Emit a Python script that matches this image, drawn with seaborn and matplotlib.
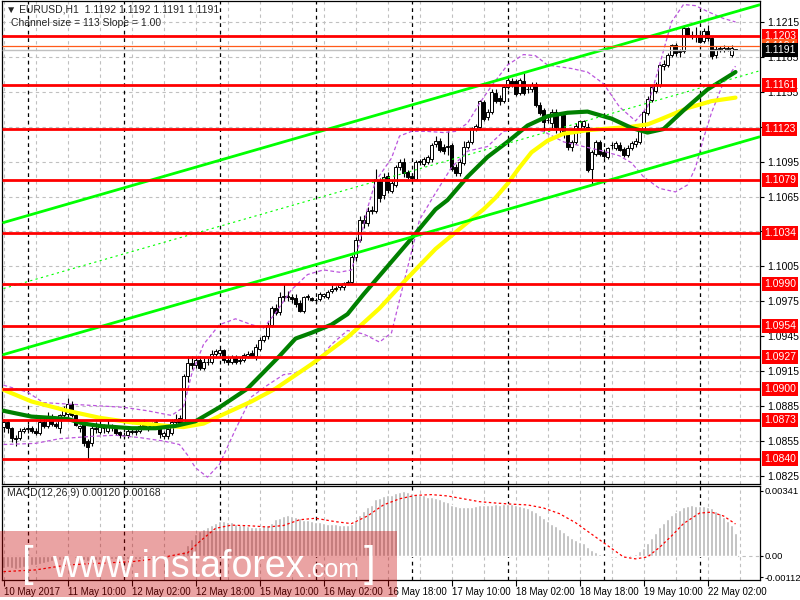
import numpy as np
import pandas as pd
import seaborn as sns
import matplotlib
matplotlib.use("Agg")
from matplotlib import pyplot as plt
from matplotlib.patches import Rectangle
from matplotlib.transforms import blended_transform_factory

# EURUSD H1 candles, bar 0 = 10 May 2017 18:00
opens = [
    1.0867, 1.0871, 1.0866, 1.0858, 1.0858, 1.0864, 1.0865, 1.0866, 1.0864, 1.0862,
    1.0871, 1.0868, 1.0876, 1.0870, 1.0866, 1.0877, 1.0878, 1.0887, 1.0877, 1.0866,
    1.0870, 1.0855, 1.0853, 1.0866, 1.0863, 1.0866, 1.0864, 1.0867, 1.0865, 1.0863,
    1.0860, 1.0860, 1.0863, 1.0863, 1.0864, 1.0870, 1.0866, 1.0867, 1.0868, 1.0869,
    1.0859, 1.0859, 1.0862, 1.0871, 1.0875, 1.0869, 1.0911, 1.0922, 1.0920, 1.0925,
    1.0918, 1.0923, 1.0923, 1.0930, 1.0931, 1.0933, 1.0925, 1.0923, 1.0927, 1.0924,
    1.0925, 1.0928, 1.0931, 1.0928, 1.0934, 1.0942, 1.0945, 1.0955, 1.0969, 1.0966,
    1.0979, 1.0979, 1.0979, 1.0978, 1.0974, 1.0967, 1.0979, 1.0978, 1.0976, 1.0977,
    1.0980, 1.0979, 1.0984, 1.0986, 1.0987, 1.0987, 1.0991, 1.0992, 1.1013, 1.1028,
    1.1045, 1.1042, 1.1053, 1.1053, 1.1078, 1.1066, 1.1083, 1.1070, 1.1075, 1.1090,
    1.1095, 1.1086, 1.1083, 1.1080, 1.1095, 1.1093, 1.1095, 1.1097, 1.1110, 1.1113,
    1.1108, 1.1108, 1.1109, 1.1090, 1.1085, 1.1094, 1.1108, 1.1112, 1.1123, 1.1125,
    1.1146, 1.1133, 1.1138, 1.1154, 1.1150, 1.1147, 1.1159, 1.1164, 1.1164, 1.1154,
    1.1164, 1.1157, 1.1157, 1.1162, 1.1144, 1.1139, 1.1131, 1.1128, 1.1138, 1.1124,
    1.1135, 1.1119, 1.1108, 1.1112, 1.1124, 1.1126, 1.1125, 1.1089, 1.1102, 1.1112,
    1.1103, 1.1099, 1.1109, 1.1107, 1.1109, 1.1106, 1.1101, 1.1107, 1.1110, 1.1112,
    1.1123, 1.1137, 1.1148, 1.1156, 1.1161, 1.1177, 1.1178, 1.1187, 1.1195, 1.1189,
    1.1190, 1.1210, 1.1204, 1.1204, 1.1204, 1.1199, 1.1207, 1.1201, 1.1187, 1.1192,
    1.1191, 1.1192, 1.1187, 1.1192,
]
highs = [
    1.0874, 1.0873, 1.0867, 1.0860, 1.0866, 1.0867, 1.0870, 1.0868, 1.0866, 1.0874,
    1.0875, 1.0880, 1.0878, 1.0871, 1.0878, 1.0885, 1.0892, 1.0889, 1.0878, 1.0869,
    1.0872, 1.0857, 1.0870, 1.0871, 1.0874, 1.0870, 1.0873, 1.0870, 1.0866, 1.0864,
    1.0863, 1.0866, 1.0866, 1.0867, 1.0871, 1.0874, 1.0871, 1.0871, 1.0873, 1.0870,
    1.0864, 1.0866, 1.0874, 1.0878, 1.0877, 1.0913, 1.0928, 1.0928, 1.0927, 1.0928,
    1.0926, 1.0926, 1.0933, 1.0934, 1.0935, 1.0934, 1.0927, 1.0929, 1.0929, 1.0927,
    1.0931, 1.0932, 1.0933, 1.0938, 1.0944, 1.0946, 1.0957, 1.0971, 1.0973, 1.0983,
    1.0990, 1.0984, 1.0981, 1.0981, 1.0976, 1.0980, 1.0981, 1.0979, 1.0978, 1.0983,
    1.0982, 1.0985, 1.0989, 1.0988, 1.0990, 1.0992, 1.0993, 1.1015, 1.1030, 1.1048,
    1.1049, 1.1056, 1.1057, 1.1089, 1.1081, 1.1085, 1.1086, 1.1079, 1.1092, 1.1097,
    1.1098, 1.1088, 1.1085, 1.1096, 1.1097, 1.1099, 1.1101, 1.1111, 1.1117, 1.1115,
    1.1110, 1.1121, 1.1111, 1.1093, 1.1097, 1.1113, 1.1114, 1.1125, 1.1127, 1.1148,
    1.1148, 1.1140, 1.1157, 1.1157, 1.1152, 1.1161, 1.1169, 1.1167, 1.1166, 1.1167,
    1.1171, 1.1160, 1.1163, 1.1163, 1.1146, 1.1141, 1.1134, 1.1140, 1.1140, 1.1138,
    1.1137, 1.1121, 1.1114, 1.1128, 1.1131, 1.1131, 1.1128, 1.1105, 1.1114, 1.1114,
    1.1106, 1.1108, 1.1112, 1.1113, 1.1112, 1.1108, 1.1109, 1.1113, 1.1115, 1.1124,
    1.1139, 1.1151, 1.1160, 1.1163, 1.1179, 1.1182, 1.1188, 1.1196, 1.1197, 1.1192,
    1.1212, 1.1211, 1.1207, 1.1211, 1.1206, 1.1210, 1.1212, 1.1202, 1.1194, 1.1194,
    1.1195, 1.1194, 1.1195, 1.1192,
]
lows = [
    1.0863, 1.0862, 1.0854, 1.0851, 1.0856, 1.0862, 1.0862, 1.0862, 1.0860, 1.0860,
    1.0866, 1.0866, 1.0868, 1.0866, 1.0862, 1.0875, 1.0876, 1.0876, 1.0868, 1.0863,
    1.0851, 1.0839, 1.0851, 1.0862, 1.0861, 1.0862, 1.0862, 1.0864, 1.0860, 1.0858,
    1.0858, 1.0858, 1.0861, 1.0860, 1.0862, 1.0866, 1.0864, 1.0865, 1.0866, 1.0858,
    1.0857, 1.0857, 1.0860, 1.0869, 1.0867, 1.0868, 1.0906, 1.0917, 1.0918, 1.0916,
    1.0916, 1.0920, 1.0921, 1.0927, 1.0928, 1.0922, 1.0920, 1.0921, 1.0921, 1.0921,
    1.0923, 1.0926, 1.0927, 1.0925, 1.0932, 1.0940, 1.0943, 1.0953, 1.0963, 1.0963,
    1.0975, 1.0975, 1.0974, 1.0970, 1.0966, 1.0965, 1.0976, 1.0975, 1.0974, 1.0975,
    1.0978, 1.0977, 1.0982, 1.0984, 1.0985, 1.0985, 1.0989, 1.0990, 1.1010, 1.1026,
    1.1038, 1.1040, 1.1050, 1.1051, 1.1060, 1.1063, 1.1068, 1.1068, 1.1073, 1.1088,
    1.1082, 1.1080, 1.1079, 1.1079, 1.1092, 1.1091, 1.1093, 1.1095, 1.1108, 1.1103,
    1.1102, 1.1101, 1.1087, 1.1083, 1.1083, 1.1092, 1.1106, 1.1110, 1.1121, 1.1123,
    1.1130, 1.1131, 1.1136, 1.1145, 1.1144, 1.1145, 1.1157, 1.1159, 1.1151, 1.1152,
    1.1152, 1.1154, 1.1155, 1.1142, 1.1135, 1.1121, 1.1128, 1.1124, 1.1120, 1.1117,
    1.1115, 1.1105, 1.1104, 1.1110, 1.1120, 1.1122, 1.1086, 1.1076, 1.1100, 1.1100,
    1.1098, 1.1097, 1.1106, 1.1105, 1.1104, 1.1099, 1.1099, 1.1105, 1.1108, 1.1110,
    1.1121, 1.1135, 1.1146, 1.1154, 1.1159, 1.1174, 1.1176, 1.1185, 1.1186, 1.1185,
    1.1188, 1.1202, 1.1200, 1.1198, 1.1197, 1.1197, 1.1199, 1.1183, 1.1184, 1.1189,
    1.1189, 1.1190, 1.1185, 1.1191,
]
closes = [
    1.0871, 1.0866, 1.0858, 1.0857, 1.0864, 1.0865, 1.0866, 1.0864, 1.0862, 1.0871,
    1.0868, 1.0876, 1.0870, 1.0868, 1.0877, 1.0882, 1.0887, 1.0877, 1.0869, 1.0868,
    1.0853, 1.0850, 1.0866, 1.0865, 1.0868, 1.0866, 1.0869, 1.0867, 1.0862, 1.0860,
    1.0860, 1.0864, 1.0863, 1.0863, 1.0868, 1.0868, 1.0869, 1.0870, 1.0871, 1.0861,
    1.0862, 1.0865, 1.0871, 1.0874, 1.0869, 1.0911, 1.0922, 1.0920, 1.0925, 1.0918,
    1.0923, 1.0923, 1.0930, 1.0932, 1.0933, 1.0925, 1.0923, 1.0927, 1.0923, 1.0925,
    1.0929, 1.0930, 1.0928, 1.0936, 1.0942, 1.0945, 1.0955, 1.0969, 1.0965, 1.0979,
    1.0979, 1.0979, 1.0977, 1.0973, 1.0967, 1.0979, 1.0979, 1.0976, 1.0976, 1.0981,
    1.0981, 1.0983, 1.0986, 1.0986, 1.0989, 1.0991, 1.0992, 1.1013, 1.1028, 1.1045,
    1.1042, 1.1053, 1.1053, 1.1080, 1.1064, 1.1082, 1.1071, 1.1077, 1.1090, 1.1095,
    1.1085, 1.1082, 1.1081, 1.1095, 1.1095, 1.1097, 1.1099, 1.1109, 1.1113, 1.1105,
    1.1104, 1.1108, 1.1089, 1.1085, 1.1095, 1.1108, 1.1112, 1.1124, 1.1126, 1.1147,
    1.1132, 1.1138, 1.1155, 1.1147, 1.1147, 1.1159, 1.1165, 1.1161, 1.1153, 1.1165,
    1.1154, 1.1157, 1.1161, 1.1144, 1.1137, 1.1129, 1.1131, 1.1138, 1.1125, 1.1135,
    1.1119, 1.1108, 1.1112, 1.1126, 1.1130, 1.1130, 1.1088, 1.1103, 1.1112, 1.1102,
    1.1100, 1.1107, 1.1109, 1.1111, 1.1105, 1.1101, 1.1107, 1.1111, 1.1113, 1.1123,
    1.1138, 1.1149, 1.1159, 1.1162, 1.1178, 1.1179, 1.1187, 1.1195, 1.1188, 1.1190,
    1.1210, 1.1204, 1.1203, 1.1204, 1.1198, 1.1207, 1.1201, 1.1186, 1.1192, 1.1192,
    1.1193, 1.1192, 1.1193, 1.1191,
]

# moving averages (bar index, price)
ma_green_bars = [0, 7, 16, 20, 24, 32, 38, 43, 48, 54, 61, 69, 73, 77, 82, 86, 90, 94, 101, 108,
                 111, 116, 121, 126, 131, 136, 141, 146, 152, 157, 161, 165, 170, 176, 183]
ma_green = [1.0881, 1.0876, 1.0874, 1.0870, 1.0868, 1.0866, 1.0866, 1.0868, 1.0872, 1.0884,
            1.0900, 1.0928, 1.0943, 1.0948, 1.0955, 1.0964, 1.0981, 1.0997, 1.1025, 1.1054,
            1.1062, 1.1082, 1.1099, 1.1112, 1.1126, 1.1134, 1.1137, 1.1138, 1.1132, 1.1124,
            1.1120, 1.1123, 1.1139, 1.1157, 1.1172]
ma_yellow_bars = [0, 7, 16, 24, 32, 41, 45, 50, 55, 62, 68, 77, 86, 94, 101, 108, 115, 120, 123,
                  126, 129, 132, 136, 140, 146, 157, 161, 164, 171, 177, 183]
ma_yellow = [1.0899, 1.0889, 1.0881, 1.0875, 1.0871, 1.0868, 1.0867, 1.0870, 1.0878, 1.0889,
             1.0900, 1.0921, 1.0944, 1.0969, 1.0995, 1.1020, 1.1040, 1.1054, 1.1064,
             1.1076, 1.1090, 1.1103, 1.1113, 1.1119, 1.1122, 1.1125, 1.1127, 1.1131, 1.1141,
             1.1147, 1.1150]

# bollinger bands (bar index, price)
bb_up_bars = [0, 6, 10, 20, 30, 36, 42, 45, 47, 50, 54, 58, 62, 65, 68, 72, 76, 80, 84, 87, 89,
              91, 93, 95, 97, 99, 102, 106, 110, 113, 116, 119, 122, 126, 130, 133, 136, 142,
              146, 150, 154, 158, 161, 164, 167, 170, 173, 176, 180, 183]
bb_up = [1.0903, 1.0897, 1.0888, 1.0886, 1.0884, 1.0881, 1.0877, 1.0884, 1.0912, 1.0938,
         1.0955, 1.0960, 1.0955, 1.0952, 1.0965, 1.0985, 1.0998, 1.1002, 1.1000, 1.1002,
         1.1025, 1.1055, 1.1078, 1.1088, 1.1098, 1.1117, 1.1121, 1.1121, 1.1120, 1.1121,
         1.1128, 1.1145, 1.1160, 1.1178, 1.1187, 1.1186, 1.1178, 1.1175, 1.1172, 1.1162,
         1.1142, 1.1130, 1.1142, 1.1178, 1.1215, 1.1230, 1.1229, 1.1224, 1.1218, 1.1215]
bb_low_bars = [0, 8, 14, 22, 28, 34, 40, 44, 46, 48, 51, 54, 58, 62, 66, 70, 74, 78, 82, 86,
               90, 94, 97, 100, 104, 108, 112, 116, 121, 125, 131, 135, 140, 145, 150, 154,
               157, 160, 164, 168, 171, 173, 175, 177, 180, 183]
bb_low = [1.0852, 1.0853, 1.0857, 1.0859, 1.0860, 1.0858, 1.0855, 1.0852, 1.0843, 1.0832,
          1.0824, 1.0835, 1.0865, 1.0893, 1.0903, 1.0912, 1.0914, 1.0922, 1.0938, 1.0950,
          1.0947, 1.0940, 1.0948, 1.0990, 1.1045, 1.1068, 1.1090, 1.1104, 1.1108, 1.1121,
          1.1124, 1.1121, 1.1112, 1.1108, 1.1104, 1.1100, 1.1094, 1.1082, 1.1072, 1.1069,
          1.1075, 1.1090, 1.1115, 1.1137, 1.1163, 1.1177]

# linear regression channel, middle line at left and right edge, size 113 pips
channel_bars = [0, 189]
channel_mid = [1.0986, 1.1173]
channel_half = 0.00567

levels = [1.1203, 1.1161, 1.1123, 1.1079, 1.1034, 1.0990, 1.0954, 1.0927, 1.0900, 1.0873, 1.0840]
bid, ask = 1.1191, 1.1194

macd_hist = [
    -0.00062, -0.00060, -0.00063, -0.00066, -0.00062, -0.00058,
    -0.00052, -0.00048, -0.00046, -0.00040, -0.00037, -0.00030, -0.00028, -0.00027, -0.00022, -0.00015,
    -0.00008, -0.00007, -0.00010, -0.00012,
    -0.00020, -0.00026, -0.00024, -0.00023, -0.00021, -0.00020, -0.00018, -0.00017, -0.00018, -0.00019,
    -0.00019, -0.00018, -0.00017, -0.00016, -0.00014, -0.00012, -0.00011, -0.00010, -0.00008, -0.00010,
    -0.00011, -0.00010, -0.00006, -0.00002, -0.00001,
    0.00025, 0.00060, 0.00090, 0.00115, 0.00130, 0.00142, 0.00152, 0.00165, 0.00175, 0.00182, 0.00184, 0.00180,
    0.00176, 0.00170, 0.00165, 0.00160, 0.00157, 0.00154, 0.00152, 0.00152, 0.00155, 0.00162, 0.00175,
    0.00192, 0.00200, 0.00210, 0.00215, 0.00212, 0.00205,
    0.00198, 0.00190, 0.00188, 0.00185, 0.00180, 0.00176, 0.00172, 0.00170, 0.00168, 0.00166, 0.00165,
    0.00165, 0.00163, 0.00170,
    0.00190, 0.00215, 0.00235, 0.00255, 0.00270, 0.00300, 0.00305, 0.00315, 0.00318, 0.00322, 0.00330, 0.00338,
    0.00341, 0.00336, 0.00330, 0.00325, 0.00322, 0.00318, 0.00312, 0.00308, 0.00305, 0.00298, 0.00290,
    0.00282, 0.00270, 0.00262, 0.00258, 0.00255, 0.00255, 0.00258, 0.00260, 0.00265,
    0.00268, 0.00268, 0.00270, 0.00272, 0.00270, 0.00272, 0.00275, 0.00272, 0.00265, 0.00262, 0.00258,
    0.00250, 0.00242,
    0.00230, 0.00215, 0.00198, 0.00182, 0.00168, 0.00155, 0.00140, 0.00125, 0.00108, 0.00095, 0.00085,
    0.00075, 0.00068, 0.00045, 0.00032,
    0.00020, 0.00008, -0.00003, -0.00006, -0.00008, -0.00008, -0.00006, -0.00007, -0.00005, -0.00002, 0.00008,
    0.00025, 0.00042, 0.00068, 0.00095, 0.00122, 0.00150, 0.00175, 0.00195, 0.00215, 0.00232, 0.00242, 0.00255,
    0.00262, 0.00265, 0.00264, 0.00260, 0.00262, 0.00258, 0.00250, 0.00238, 0.00225, 0.00205, 0.00185,
    0.00165, 0.00120,
]
signal_bars = [0, 8, 16, 24, 32, 38, 44, 46, 49, 53, 57, 62, 66, 70, 74, 78, 83, 87, 91, 95, 99,
               103, 107, 111, 115, 119, 123, 127, 131, 135, 139, 143, 147, 151, 155, 158, 161,
               164, 167, 170, 174, 177, 180, 183]
signal = [-0.00082, -0.00073, -0.00047, -0.00038, -0.00030, -0.00015, 0.00010, 0.00016, 0.00075,
          0.00145, 0.00162, 0.00158, 0.00152, 0.00160, 0.00190, 0.00198, 0.00180, 0.00170, 0.00210,
          0.00268, 0.00300, 0.00318, 0.00322, 0.00315, 0.00300, 0.00285, 0.00278, 0.00272, 0.00268,
          0.00252, 0.00222, 0.00175, 0.00115, 0.00055, -0.00005, -0.00015, -0.00005, 0.00045,
          0.00105, 0.00170, 0.00225, 0.00230, 0.00210, 0.00168]

time_labels = ["10 May 2017", "11 May 10:00", "12 May 02:00", "12 May 18:00", "15 May 10:00",
               "16 May 02:00", "16 May 18:00", "17 May 10:00", "18 May 02:00", "18 May 18:00",
               "19 May 10:00", "22 May 02:00"]
day_starts = [6, 30, 54, 78, 102, 126, 150, 174]

sns.set_style("white")
plt.rcParams['font.family'] = ['Liberation Sans', 'DejaVu Sans']

fig = plt.figure(figsize=(8, 6), dpi=100)
ax = fig.add_axes([2 / 800, 1 - 484 / 600, 758 / 800, 483 / 600])
axm = fig.add_axes([2 / 800, 1 - 580 / 600, 758 / 800, 94 / 600], sharex=ax)

n = len(closes)
idx = np.arange(n)
o = np.array(opens)
h = np.array(highs)
l = np.array(lows)
c = np.array(closes)

xmin, xmax = -0.375, 189.125
price_ticks = np.arange(1.0825, 1.1216, 0.0030)
gray = '#C0C0C0'

for a in (ax, axm):
    for b in range(0, 190, 8):
        a.axvline(b, color=gray, lw=0.8, ls=(0, (3, 3)), zorder=0.5)
    for b in day_starts:
        a.axvline(b, color='black', lw=0.9, ls=(0, (3, 3)), zorder=0.6)
    for s in a.spines.values():
        s.set_color('black')
        s.set_linewidth(0.9)

ax.hlines(price_ticks, xmin, xmax, color=gray, lw=0.8, ls=(0, (3, 3)), zorder=0.5)

# candles
ax.vlines(idx, l, h, color='black', lw=0.8, zorder=3)
body_low = np.minimum(o, c)
body_h = np.maximum(np.abs(c - o), 0.00002)
fills = np.where(c >= o, 'white', 'black')
ax.bar(idx, body_h, bottom=body_low, width=0.62, color=fills, edgecolor='black',
       linewidth=0.7, zorder=3.1)

# bollinger bands
bb_col = '#BB55DD'
sns.lineplot(x=bb_up_bars, y=bb_up, ax=ax, color=bb_col, lw=0.9, linestyle=(0, (3, 2)), zorder=3.5)
sns.lineplot(x=bb_low_bars, y=bb_low, ax=ax, color=bb_col, lw=0.9, linestyle=(0, (3, 2)), zorder=3.5)

# moving averages
sns.lineplot(x=ma_yellow_bars, y=ma_yellow, ax=ax, color='#FFFF00', lw=3, zorder=4)
sns.lineplot(x=ma_green_bars, y=ma_green, ax=ax, color='#008000', lw=3, zorder=4.1)

# regression channel
mid = np.array(channel_mid)
sns.lineplot(x=channel_bars, y=mid + channel_half, ax=ax, color='#00FF00', lw=2, zorder=4.2)
sns.lineplot(x=channel_bars, y=mid - channel_half, ax=ax, color='#00FF00', lw=2, zorder=4.2)
sns.lineplot(x=channel_bars, y=mid, ax=ax, color='#00FF00', lw=0.8, linestyle=(0, (2, 3)), zorder=4.2)

# horizontal levels
ax.hlines(levels, xmin, xmax, color='red', lw=2, zorder=4.5)
ax.hlines([ask], xmin, xmax, color='#FF5A1A', lw=0.9, zorder=4.4)
ax.hlines([bid], xmin, xmax, color=gray, lw=1.0, zorder=4.4)

ax.set_xlim(xmin, xmax)
ax.set_ylim(1.08181, 1.12330)
ax.yaxis.tick_right()
ax.set_yticks(price_ticks)
# labels hidden behind the red level boxes are left blank
tick_text = []
for v in price_ticks:
    hidden = any(abs(v - lv) < 0.0004 for lv in levels)
    tick_text.append('' if hidden else f"{v:.4f}")
ax.set_yticklabels(tick_text)
ax.tick_params(axis='y', direction='out', length=3, pad=2, labelsize=7.5, colors='black', right=True)
ax.tick_params(axis='x', bottom=False, labelbottom=False)
ax.set_xlabel('')
ax.set_ylabel('')

trans = blended_transform_factory(ax.transAxes, ax.transData)
lab_x = 1 + 4 / 758
for lv in levels:
    ax.text(lab_x, lv, f"{lv:.4f}", transform=trans, ha='left', va='center', fontsize=7.5,
            color='white', clip_on=False, zorder=6,
            bbox=dict(boxstyle='square,pad=0.2', fc='red', ec='none'))
ax.text(lab_x, ask, f"{ask:.4f}", transform=trans, ha='left', va='center', fontsize=7.5,
        color='white', clip_on=False, zorder=6,
        bbox=dict(boxstyle='square,pad=0.2', fc='#FF5A1A', ec='none'))
ax.text(lab_x, bid, f"{bid:.4f}", transform=trans, ha='left', va='center', fontsize=7.5,
        color='white', clip_on=False, zorder=7,
        bbox=dict(boxstyle='square,pad=0.2', fc='black', ec='none'))

# MACD panel
axm.bar(idx, macd_hist, width=0.6, color='#B8B8B8', zorder=2)
sns.lineplot(x=signal_bars, y=signal, ax=axm, color='red', lw=0.9, linestyle=(0, (2, 2)), zorder=3)
axm.axhline(0, color=gray, lw=0.8, ls=(0, (3, 3)), zorder=0.5)
axm.set_ylim(-0.001259, 0.003672)
axm.yaxis.tick_right()
macd_ticks = [-0.00112, 0.0, 0.00341]
axm.set_yticks(macd_ticks)
axm.set_yticklabels(["-0.00112", "0.00", "0.00341"])
axm.tick_params(axis='y', direction='out', length=2, pad=1, labelsize=6.8, colors='black', right=True)
axm.set_xticks(range(0, n, 16))
axm.set_xticklabels(time_labels)
axm.tick_params(axis='x', direction='out', length=4, pad=1, labelsize=7, colors='black', bottom=True)
for t in axm.get_xticklabels():
    t.set_ha('left')
axm.set_xlabel('')
axm.set_ylabel('')

# header texts
fig.text(6 / 800, 1 - 9 / 600, "\u25bc EURUSD,H1  1.1192 1.1192 1.1191 1.1191", fontsize=7.5,
         va='center', ha='left')
fig.text(11 / 800, 1 - 23 / 600, "Channel size = 113 Slope = 1.00", fontsize=7.5,
         va='center', ha='left')
fig.text(7 / 800, 1 - 493 / 600, "MACD(12,26,9) 0.00120 0.00168", fontsize=7.5,
         va='center', ha='left')

# watermark
fig.patches.append(Rectangle((0, 1 - 597 / 600), 397 / 800, 66 / 600, transform=fig.transFigure,
                             facecolor=(0.78, 0, 0), alpha=0.36, edgecolor='none', zorder=5))
fig.text(22 / 800, 1 - 576 / 600, "[", fontsize=30, color='white', ha='left', va='baseline', zorder=6)
fig.text(52 / 800, 1 - 577 / 600, "www.instaforex", fontsize=27, color='white', ha='left',
         va='baseline', zorder=6)
fig.text(306 / 800, 1 - 577 / 600, ".com", fontsize=18, color='white', ha='left',
         va='baseline', zorder=6)
fig.text(364 / 800, 1 - 576 / 600, "]", fontsize=30, color='white', ha='left', va='baseline', zorder=6)

fig.savefig("out.png", dpi=100)
